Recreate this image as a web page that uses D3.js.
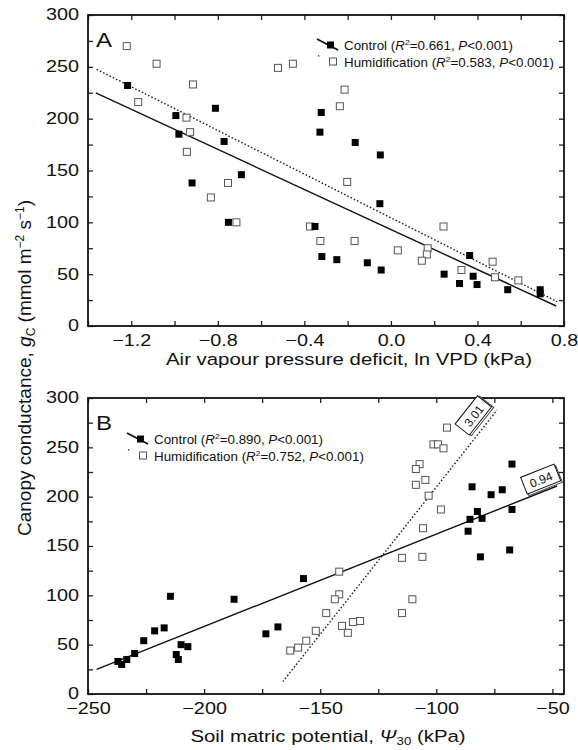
<!DOCTYPE html>
<html>
<head>
<meta charset="utf-8">
<script src="https://cdn.jsdelivr.net/npm/d3@7"></script>
<style>
  body { margin: 0; background: #fff; }
  text { font-family: "Liberation Sans", Arial, sans-serif; fill: #111; }
</style>
</head>
<body>
<svg id="chart" width="578" height="750"></svg>
<script>
// panel A: ln VPD vs gc
const vpdControl = [-1.217, -0.994, -0.980, -0.811, -0.771, -0.691, -0.919, -0.751, -0.351, -0.322, -0.328, -0.165, -0.049, -0.051, -0.319, -0.250, -0.109, -0.045, 0.246, 0.317, 0.364, 0.380, 0.398, 0.540, 0.690, 0.690];
const gcControlA = [232, 203, 185, 210, 178, 146, 138, 100, 96, 206, 187, 177, 165, 118, 67, 64, 61, 54, 50, 41, 68, 48, 40, 35, 35, 31];
const vpdHumid = [-1.221, -1.083, -1.168, -0.915, -0.945, -0.928, -0.943, -0.522, -0.453, -0.214, -0.236, -0.202, -0.832, -0.753, -0.714, -0.374, -0.326, -0.168, 0.032, 0.170, 0.166, 0.143, 0.243, 0.326, 0.470, 0.481, 0.589];
const gcHumidA = [270, 253, 216, 233, 201, 187, 168, 249, 253, 228, 212, 139, 124, 138, 100, 96, 82, 82, 73, 75, 69, 63, 96, 54, 62, 47, 44];
const fitControlA = [[-1.364, 224.8], [0.764, 19.3]];
const fitHumidA = [[-1.36, 247.6], [0.769, 23.4]];

// panel B: soil matric potential vs gc
const psiControl = [-67.4, -84.6, -76.4, -71.6, -82.3, -85.5, -80.3, -67.4, -86.3, -68.4, -81.0, -157.2, -187.1, -173.4, -168.2, -214.5, -217.2, -221.3, -226.0, -229.9, -233.3, -235.5, -237.1, -209.9, -207.0, -212.0, -211.1];
const gcControlB = [233, 210, 202, 207, 185, 177, 178, 187, 165, 146, 139, 117, 96, 61, 68, 99, 67, 64, 54, 41, 35, 30, 33, 50, 48, 40, 35];
const psiHumid = [-95.4, -101.2, -99.3, -96.9, -107.2, -108.8, -104.7, -108.8, -103.3, -98.0, -105.7, -114.8, -106.0, -141.8, -141.8, -143.7, -147.4, -110.3, -114.8, -132.8, -135.9, -140.6, -138.1, -151.9, -156.0, -162.9, -159.5];
const gcHumidB = [270, 253, 253, 249, 233, 228, 217, 212, 201, 187, 168, 138, 139, 124, 101, 96, 82, 96, 82, 74, 73, 69, 62, 64, 54, 44, 47];
const fitControlB = [[-246.3, 25], [-48, 210.8]];
const fitHumidB = [[-166.1, 12.5], [-73.8, 287.8]];
const slopeLabels = ["3.01", "0.94"];

const legendA = [["Control", "0.661", "0.001"], ["Humidification", "0.583", "0.001"]];
const legendB = [["Control", "0.890", "0.001"], ["Humidification", "0.752", "0.001"]];

const svg = d3.select("#chart");
const left = 88, right = 564;
const sx = 1.2; // the figure is a bit wider than tall

const panels = [
  { top: 15, bottom: 326, xdom: [-1.4, 0.8], xticks: d3.range(-1.4, 0.81, 0.2), xlab: d => Math.abs(Math.round(d * 10)) % 4 === 0, xfmt: d3.format(".1f"), letter: "A" },
  { top: 398, bottom: 694, xdom: [-250, -45], xticks: d3.range(-250, -44, 25), xlab: d => d % 50 === 0, xfmt: d3.format("d"), letter: "B" }
];

panels.forEach(p => {
  p.x = d3.scaleLinear().domain(p.xdom).range([left, right]);
  p.y = d3.scaleLinear().domain([0, 300]).range([p.bottom, p.top]);
  const g = svg.append("g");
  p.g = g;

  const yticks = d3.range(0, 301, 25);
  g.append("g").attr("transform", `translate(0,${p.bottom})`)
    .call(d3.axisBottom(p.x).tickValues(p.xticks).tickSizeInner(-5).tickSizeOuter(0).tickPadding(8)
      .tickFormat(d => p.xlab(d) ? p.xfmt(Math.round(d * 10) / 10) : ""));
  g.append("g").attr("transform", `translate(0,${p.top})`)
    .call(d3.axisTop(p.x).tickValues(p.xticks).tickSizeInner(-5).tickSizeOuter(0).tickFormat(""));
  const ya = g.append("g").attr("transform", `translate(${left},0)`)
    .call(d3.axisLeft(p.y).tickValues(yticks).tickSizeInner(-5).tickSizeOuter(0).tickPadding(9)
      .tickFormat(d => d % 50 === 0 ? d : ""));
  g.append("g").attr("transform", `translate(${right},0)`)
    .call(d3.axisRight(p.y).tickValues(yticks).tickSizeInner(-5).tickSizeOuter(0).tickFormat(""));

  g.selectAll(".domain").remove();
  g.selectAll(".tick line").attr("stroke", "#222").attr("stroke-width", 1.3);
  g.selectAll(".tick text").style("font-size", "16.5px").attr("fill", "#111")
    .attr("transform", `scale(${sx},1)`);
  ya.selectAll(".tick text").attr("x", -9 / sx).attr("dy", "0.3em");

  g.append("rect").attr("x", left).attr("y", p.top)
    .attr("width", right - left).attr("height", p.bottom - p.top)
    .attr("fill", "none").attr("stroke", "#111").attr("stroke-width", 1.8);

  g.append("text").attr("transform", `translate(96,${p.top + 32}) scale(${sx},1)`)
    .style("font-size", "20px").text(p.letter);
});

const line = (p) => d3.line().x(d => p.x(d[0])).y(d => p.y(d[1]));

function drawPoints(p, xs, ys, filled) {
  p.g.append("g").selectAll("rect")
    .data(d3.zip(xs, ys)).join("rect")
    .attr("x", d => p.x(d[0]) - 3.5).attr("y", d => p.y(d[1]) - 3.5)
    .attr("width", 7).attr("height", 7)
    .attr("fill", filled ? "#000" : "#fff")
    .attr("stroke", filled ? "none" : "#555").attr("stroke-width", 1);
}

function drawFits(p, ctrl, hum) {
  p.g.append("path").datum(ctrl).attr("d", line(p))
    .attr("fill", "none").attr("stroke", "#111").attr("stroke-width", 1.4);
  p.g.append("path").datum(hum).attr("d", line(p))
    .attr("fill", "none").attr("stroke", "#222").attr("stroke-width", 1.4).attr("stroke-dasharray", "1.6,2");
}

const [pA, pB] = panels;
drawFits(pA, fitControlA, fitHumidA);
drawPoints(pA, vpdHumid, gcHumidA, false);
drawPoints(pA, vpdControl, gcControlA, true);
drawFits(pB, fitControlB, fitHumidB);
drawPoints(pB, psiHumid, gcHumidB, false);
drawPoints(pB, psiControl, gcControlB, true);

// slope boxes at the ends of panel B lines
function fitAngle(p, f) {
  const dx = p.x(f[1][0]) - p.x(f[0][0]), dy = p.y(f[1][1]) - p.y(f[0][1]);
  return Math.atan2(dy, dx) * 180 / Math.PI;
}
function slopeBox(p, fit, dx, dy, txt) {
  const end = fit[1];
  const a = p.x(end[0]), b = p.y(end[1]);
  const g = p.g.append("g").attr("transform", `translate(${a + dx},${b + dy}) rotate(${fitAngle(p, fit)})`);
  g.append("rect").attr("x", -17).attr("y", -8).attr("width", 36).attr("height", 18)
    .attr("fill", "#fff").attr("stroke", "#444").attr("stroke-width", 1);
  g.append("rect").attr("x", -18).attr("y", -10).attr("width", 36).attr("height", 18)
    .attr("fill", "#fff").attr("stroke", "#111").attr("stroke-width", 1);
  g.append("text").attr("x", 0).attr("y", 4).attr("text-anchor", "middle")
    .style("font-size", "12px").text(txt);
}
slopeBox(pB, fitHumidB, -23, 6, slopeLabels[0]);
slopeBox(pB, fitControlB, -16, -6, slopeLabels[1]);

// legends
function legend(p, rows, x0, y0) {
  rows.forEach((r, i) => {
    const y = y0 + i * 16.5;
    const g = p.g.append("g");
    if (i === 0) {
      g.append("line").attr("x1", x0).attr("y1", y - 11).attr("x2", x0 + 21).attr("y2", y)
        .attr("stroke", "#111").attr("stroke-width", 1.8);
      g.append("rect").attr("x", x0 + 10).attr("y", y - 8.5).attr("width", 7).attr("height", 7).attr("fill", "#000");
    } else {
      g.append("line").attr("x1", x0 + 1).attr("y1", y - 11).attr("x2", x0 + 20).attr("y2", y)
        .attr("stroke", "#222").attr("stroke-width", 1.3).attr("stroke-dasharray", "1.5,16");
      g.append("rect").attr("x", x0 + 12.5).attr("y", y - 8.5).attr("width", 7).attr("height", 7)
        .attr("fill", "#fff").attr("stroke", "#555");
    }
    const t = g.append("text").attr("transform", `translate(${x0 + 27},${y}) scale(1.07,1)`)
      .style("font-size", "12.5px");
    t.append("tspan").text(`${r[0]} (`);
    t.append("tspan").style("font-style", "italic").text("R");
    t.append("tspan").attr("dy", -5).style("font-size", "8px").text("2");
    t.append("tspan").attr("dy", 5).text(`=${r[1]}, `);
    t.append("tspan").style("font-style", "italic").text("P");
    t.append("tspan").text(`<${r[2]})`);
  });
}
legend(pA, legendA, 317, 50);
legend(pB, legendB, 127, 444);

// axis titles
svg.append("text").attr("transform", `translate(349,365) scale(${sx},1)`)
  .attr("text-anchor", "middle").style("font-size", "17px")
  .text("Air vapour pressure deficit, ln VPD (kPa)");

const tB = svg.append("text").attr("transform", `translate(328,742) scale(${sx},1)`)
  .attr("text-anchor", "middle").style("font-size", "17px");
tB.append("tspan").text("Soil matric potential, ");
tB.append("tspan").style("font-style", "italic").text("Ψ");
tB.append("tspan").attr("dy", 3).style("font-size", "11px").text("30");
tB.append("tspan").attr("dy", -3).text(" (kPa)");

const tY = svg.append("text").attr("transform", "translate(31,368) rotate(-90)")
  .attr("text-anchor", "middle").style("font-size", "19px");
tY.append("tspan").text("Canopy conductance, ");
tY.append("tspan").style("font-style", "italic").text("g");
tY.append("tspan").attr("dy", 4).style("font-size", "12px").text("C");
tY.append("tspan").attr("dy", -4).text(" (mmol m");
tY.append("tspan").attr("dy", -7).style("font-size", "12px").text("−2");
tY.append("tspan").attr("dy", 7).text(" s");
tY.append("tspan").attr("dy", -7).style("font-size", "12px").text("−1");
tY.append("tspan").attr("dy", 7).text(")");
</script>
</body>
</html>
